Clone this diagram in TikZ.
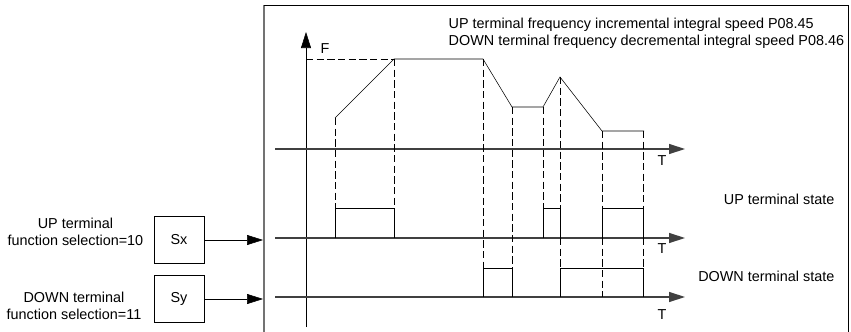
\documentclass[tikz,border=0pt]{standalone}
\usepackage{fontspec}
\setmainfont{Liberation Sans}
\usetikzlibrary{arrows.meta,positioning}

\begin{document}
\begin{tikzpicture}[x=0.75pt,y=-0.75pt,font=\fontsize{10.8}{12.75}\selectfont,
    tip/.style={-{Triangle[length=12pt,width=7.5pt]}},
    guide/.style={dash pattern=on 5.5pt off 2.5pt},
    termbox/.style={draw,minimum width=37.5pt,minimum height=35.5pt,inner sep=0pt},
    axisline/.style={black!75,line width=1pt}]
    \useasboundingbox (0,0) rectangle (851,332);
    \draw[black!55,line width=1.5pt] (264,332)--(264,5);
    \draw (264,5)--(848,5)--(848,332);
    \node[termbox] (sx) at (179,240) {Sx};
    \node[termbox] (sy) at (179,299) {Sy};
    \node[align=center,anchor=east] (uplabel) at (148,232) {UP terminal\\function selection=10};
    \node[align=center,anchor=east] (downlabel) at (146,306) {DOWN terminal\\function selection=11};
    \coordinate (sxin) at (263,240);
    \coordinate (syin) at (263,299);
    \draw[tip] (sx.east)--(sxin);
    \draw[tip] (sy.east)--(syin);
    \coordinate (fbot) at (306,327);
    \coordinate (ftop) at (306,32);
    \draw[tip] (fbot)--(ftop);
    \node (flabel) at (325,49) {F};
    \foreach \y/\t in {149/161,238/249,297/315}
    {
        \draw[tip,axisline] (275,\y)--(685,\y);
        \node at (662,\t) {T};
    }
    \draw (335,118)--(394,59)--(483,59)--(512,107)--(543,107)--(560,77)--(602,131)--(644,131);
    \draw[guide] (306,59)--(394,59);
    \foreach \a/\b in {335/394,543/560,602/643}
    {
        \draw (\a,238)--(\a,208)--(\b,208)--(\b,238);
    }
    \foreach \a/\b in {483/512,560/643}
    {
        \draw (\a,297)--(\a,268)--(\b,268)--(\b,297);
    }
    \foreach \x/\ya/\yb in {335/118/208,394/59/208,483/59/268,512/107/268,543/107/208,560/77/208,560/238/268,602/131/208,602/238/297,643/131/208,643/238/268}
    {
        \draw[guide] (\x,\ya)--(\x,\yb);
    }
    \node[align=left,anchor=west] (speedtext) at (444,33) {UP terminal frequency incremental integral speed P08.45\\DOWN terminal frequency decremental integral speed P08.46};
    \node[anchor=east] (upstate) at (839,199) {UP terminal state};
    \node[anchor=east] (downstate) at (839,276) {DOWN terminal state};
\end{tikzpicture}
\end{document}
